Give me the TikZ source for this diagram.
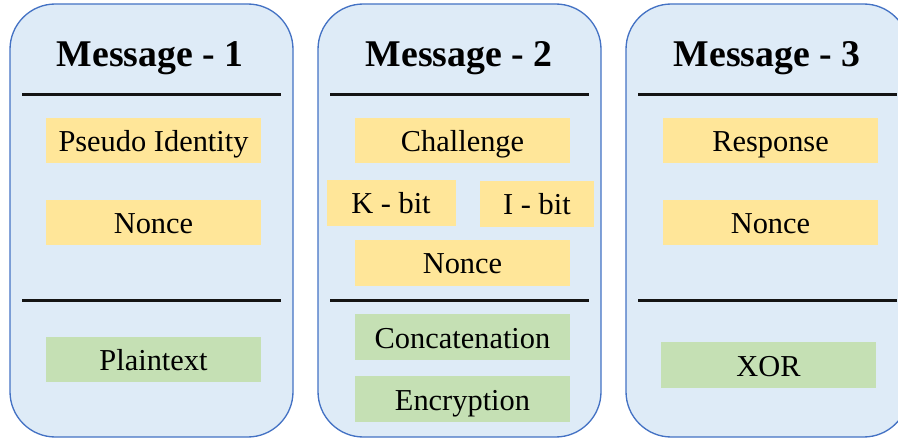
\documentclass[tikz,border=0pt]{standalone}
\usepackage{fontspec}
\setmainfont{Liberation Serif}
\definecolor{panelfill}{HTML}{DEEBF7}
\definecolor{panelline}{HTML}{4472C4}
\definecolor{ybox}{HTML}{FFE699}
\definecolor{gbox}{HTML}{C5E0B4}
\definecolor{rule}{HTML}{141414}
\begin{document}
\begin{tikzpicture}[x=0.75pt,y=-0.75pt,
  panel/.style={draw=panelline,line width=1pt,fill=panelfill,rounded corners=34pt},
  sep/.style={draw=rule,line width=2.3pt},
  title/.style={font=\fontsize{28.3}{32}\selectfont\bfseries,inner sep=0pt,anchor=base},
  item/.style={inner sep=0pt,minimum width=161.25pt,minimum height=34pt,
    text height=18pt,text depth=1.5pt,font=\fontsize{22.8}{26}\selectfont},
  yitem/.style={item,fill=ybox},
  gitem/.style={item,fill=gbox}]
\useasboundingbox (0,0) rectangle (898,441);
\clip (0,0) rectangle (898,441);
% panels
\path[panel] (10,4) rectangle (293,437);
\path[panel] (318,4) rectangle (601,437);
\path[panel] (626,4) rectangle (909,437);
% titles
\node[title] (t1) at (150,66.7) {Message - 1};
\node[title] (t2) at (459,66.7) {Message - 2};
\node[title] (t3) at (767,66.7) {Message - 3};
% separators
\coordinate (a1) at (22,94.5); \coordinate (b1) at (281,94.5);
\coordinate (c1) at (22,300.5); \coordinate (d1) at (281,300.5);
\coordinate (a2) at (330,94.5); \coordinate (b2) at (589,94.5);
\coordinate (c2) at (330,300.5); \coordinate (d2) at (589,300.5);
\coordinate (a3) at (638,94.5); \coordinate (b3) at (897,94.5);
\coordinate (c3) at (638,300.5); \coordinate (d3) at (897,300.5);
\draw[sep] (a1) -- (b1); \draw[sep] (c1) -- (d1);
\draw[sep] (a2) -- (b2); \draw[sep] (c2) -- (d2);
\draw[sep] (a3) -- (b3); \draw[sep] (c3) -- (d3);
% panel 1
\node[yitem] (pid) at (153.5,140.5) {Pseudo Identity};
\node[yitem] (n1) at (153.5,222.5) {Nonce};
\node[gitem] (pt) at (153.5,359.5) {Plaintext};
% panel 2
\node[yitem] (ch) at (462.5,140.5) {Challenge};
\node[yitem,minimum width=96.75pt] (kb) at (391,203) {K - bit};
\node[yitem,minimum width=85.5pt] (ib) at (537,204) {I - bit};
\node[yitem] (n2) at (462.5,263) {Nonce};
\node[gitem] (cc) at (462.5,337) {Concatenation};
\node[gitem] (en) at (462.5,399) {Encryption};
% panel 3
\node[yitem] (rs) at (770.5,140.5) {Response};
\node[yitem] (n3) at (770.5,222.5) {Nonce};
\node[gitem] (xr) at (768.5,365) {XOR};
\end{tikzpicture}
\end{document}
